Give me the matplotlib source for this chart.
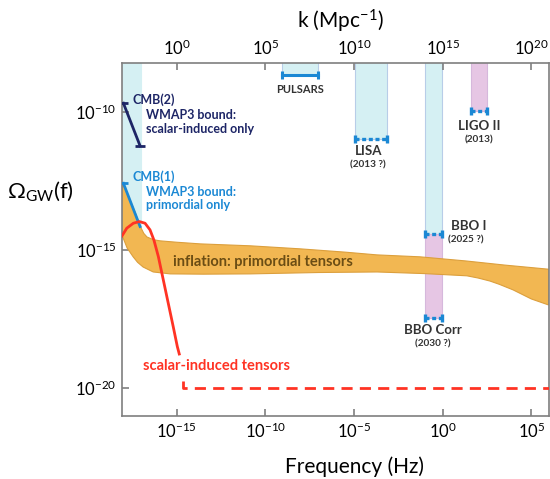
import numpy as np
import matplotlib.pyplot as plt
from matplotlib.ticker import FixedLocator, FuncFormatter, NullLocator

plt.rcParams['font.family'] = ['Lato', 'DejaVu Sans']
plt.rcParams['mathtext.fontset'] = 'custom'
plt.rcParams['mathtext.rm'] = 'Lato'
plt.rcParams['mathtext.it'] = 'Lato:italic'
plt.rcParams['mathtext.bf'] = 'Lato:bold'
plt.rcParams['mathtext.fallback'] = 'stixsans'

# all values are log10 numbers
# inflation band (upper edge left->right, lower edge right->left)
infl_up_f = [-18.08, -17.63, -17.30, -17.06, -16.85, -16.67, -16.30, -15.93, -15.0, -13.67,
             -10.85, -8.04, -5.5, -3.70, -1.28, 1.31, 3.5, 5.98]
infl_up_o = [-12.57, -13.18, -13.70, -14.13, -14.40, -14.53, -14.63, -14.67, -14.72, -14.78,
             -14.85, -14.96, -15.08, -15.18, -15.25, -15.40, -15.55, -15.70]
infl_lo_f = [5.98, 5.0, 3.97, 3.2, 2.67, 2.0, 1.37, -1.0, -3.70, -7.0, -10.85, -13.5,
             -15.36, -16.32, -16.89, -17.20, -17.45, -17.79, -18.08]
infl_lo_o = [-17.0, -16.78, -16.45, -16.25, -16.13, -16.02, -15.94, -15.86, -15.80, -15.82,
             -15.87, -15.88, -15.87, -15.80, -15.62, -15.45, -15.25, -14.93, -14.46]

# scalar-induced tensors
scal_f = [-18.08, -17.81, -17.44, -17.10, -16.78, -16.50, -16.28, -16.03, -15.75, -15.47,
          -15.19, -14.96, -14.85]
scal_o = [-14.49, -14.21, -14.03, -13.97, -14.03, -14.27, -14.64, -15.24, -16.09, -16.94,
          -17.79, -18.51, -18.78]
floor_f = [-14.62, -14.62, 5.98]
floor_o = [-19.75, -20.0, -20.0]

# CMB bounds
cmb2_f = [-18.0, -17.06]
cmb2_o = [-9.67, -11.22]
cmb1_f = [-18.0, -17.06]
cmb1_o = [-12.58, -14.15]
cmb_band_f = [-18.08, -17.02]
cmb_band_o = -14.15

# detectors: f range, sensitivity level
pulsar_f = [-9.08, -7.05]
pulsar_o = -8.65
lisa_f = [-4.94, -3.16]
lisa_o = -10.98
ligo_f = [1.58, 2.48]
ligo_o = -9.95
bbo_f = [-1.0, -0.06]
bbo1_o = -14.43
bbocorr_o = -17.48

xlim = [-18.08, 5.98]
ylim = [-21.02, -8.22]
xticks = [-15, -10, -5, 0, 5]
kticks = [0, 5, 10, 15, 20]
yticks = [-20, -15, -10]
k_shift = 15

cyan = '#d5f0f3'
cyan_edge = '#b8cde8'
pink = '#e6c6e4'
pink_edge = '#d6b8dc'
blue = '#1b88d4'
navy = '#1d2566'
red = '#ff3324'
grey = '#7f7f7f'
dark = '#333333'

p = lambda a: 10.0 ** np.asarray(a, dtype=float)

fig = plt.figure(figsize=(5.5, 4.79), dpi=100)
ax = fig.add_axes([0.2218, 0.1322, 0.7758, 0.7357])
ax.set_xscale('log')
ax.set_yscale('log')
ax.set_xlim(p(xlim))
ax.set_ylim(p(ylim))

top = ylim[1] + 0.5


def band(f, lo, hi, fc, ec):
    ax.fill_between(p(f), p(lo), p(hi), facecolor=fc, edgecolor=ec, lw=0.8, zorder=1)


band(cmb_band_f, cmb_band_o, top, cyan, cyan)
band(pulsar_f, pulsar_o, top, cyan, cyan_edge)
band(lisa_f, lisa_o, top, cyan, cyan_edge)
band(ligo_f, ligo_o, top, pink, pink_edge)
band(bbo_f, bbo1_o, top, cyan, cyan_edge)
band(bbo_f, bbocorr_o, bbo1_o, pink, pink_edge)

ax.fill(p(infl_up_f + infl_lo_f), p(infl_up_o + infl_lo_o), facecolor='#f2b752',
        edgecolor='#dc9f3c', lw=0.8, zorder=2)

# sensitivity bars
ax.plot(p(pulsar_f), p([pulsar_o] * 2), color=blue, lw=2.2, zorder=4)
ax.plot(p(pulsar_f), p([pulsar_o] * 2), ls='none', marker='|', ms=6, mew=2.2, color=blue, zorder=4)
for f, o in [(lisa_f, lisa_o), (ligo_f, ligo_o), (bbo_f, bbo1_o), (bbo_f, bbocorr_o)]:
    ax.plot(p(f), p([o] * 2), color=blue, lw=2.4, ls=(0, (1.2, 0.8)), zorder=4)
    ax.plot(p(f), p([o] * 2), ls='none', marker='|', ms=5.5, mew=2.4, color=blue, zorder=4)

# CMB bounds
ax.plot(p(cmb2_f), p(cmb2_o), color=navy, lw=2, zorder=5)
ax.plot(p(cmb2_f), p(cmb2_o), ls='none', marker='_', ms=7, mew=2, color=navy, zorder=5)
ax.plot(p(cmb1_f), p(cmb1_o), color=blue, lw=2, zorder=5)
ax.plot(p(cmb1_f[:1]), p(cmb1_o[:1]), ls='none', marker='_', ms=7, mew=2, color=blue, zorder=5)

# scalar-induced
ax.plot(p(scal_f), p(scal_o), color=red, lw=2, zorder=6)
ax.plot(p(floor_f), p(floor_o), color=red, lw=2, ls=(0, (4, 2.6)), zorder=6)

# labels inside plot
def t(x, y, s, **kw):
    kw.setdefault('fontweight', 'bold')
    ax.text(10.0 ** x, 10.0 ** y, s, va='center', zorder=7, **kw)


t(-17.50, -9.53, 'CMB(2)', color=navy, fontsize=9)
t(-16.72, -10.10, 'WMAP3 bound:', color=navy, fontsize=9)
t(-16.72, -10.61, 'scalar-induced only', color=navy, fontsize=9)
t(-17.50, -12.34, 'CMB(1)', color=blue, fontsize=9)
t(-16.72, -12.88, 'WMAP3 bound:', color=blue, fontsize=9)
t(-16.72, -13.37, 'primordial only', color=blue, fontsize=9)
t(-15.22, -15.42, 'inflation: primordial tensors', color='#6b4d14', fontsize=10.5)
t(-16.91, -19.20, 'scalar-induced tensors', color=red, fontsize=10.5)
t(-8.04, -9.19, 'PULSARS', color=dark, fontsize=8, ha='center')
t(-4.19, -11.39, 'LISA', color=dark, fontsize=9.5, ha='center')
t(-4.19, -11.91, '(2013 ?)', color=dark, fontsize=7.2, ha='center')
t(2.06, -10.50, 'LIGO II', color=dark, fontsize=9.5, ha='center')
t(2.06, -11.01, '(2013)', color=dark, fontsize=7.2, ha='center')
t(0.45, -14.13, 'BBO I', color=dark, fontsize=9.5)
t(0.32, -14.64, '(2025 ?)', color=dark, fontsize=7.2)
t(-0.53, -17.90, 'BBO Corr', color=dark, fontsize=9.5, ha='center')
t(-0.53, -18.41, '(2030 ?)', color=dark, fontsize=7.2, ha='center')

fmt = FuncFormatter(lambda v, pos: '$10^{%d}$' % int(round(np.log10(v))))

for s in ax.spines.values():
    s.set_color(grey)
    s.set_linewidth(1.2)
ax.xaxis.set_major_locator(FixedLocator(p(xticks)))
ax.yaxis.set_major_locator(FixedLocator(p(yticks)))
ax.xaxis.set_minor_locator(NullLocator())
ax.yaxis.set_minor_locator(NullLocator())
ax.xaxis.set_major_formatter(fmt)
ax.yaxis.set_major_formatter(fmt)
ax.tick_params(direction='in', length=5, width=1.2, color=grey, labelsize=12, pad=4)

ax2 = ax.twiny()
ax2.set_xscale('log')
ax2.set_xlim(p(np.array(xlim) + k_shift))
ax2.xaxis.set_major_locator(FixedLocator(p(kticks)))
ax2.xaxis.set_minor_locator(NullLocator())
ax2.xaxis.set_major_formatter(fmt)
ax2.tick_params(direction='in', length=5, width=1.2, color=grey, labelsize=12, pad=4)
for s in ax2.spines.values():
    s.set_visible(False)

ax.set_xlabel('Frequency (Hz)', fontsize=15, va='center')
ax.xaxis.set_label_coords(0.546, -0.145)
ax2.set_xlabel('k (Mpc$^{-1}$)', fontsize=15, va='center')
ax2.xaxis.set_label_coords(0.511, 1.12)
ax.set_ylabel(r'$\Omega_{\mathrm{GW}}\mathrm{(f)}$', fontsize=16, rotation=0, ha='center', va='center')
ax.yaxis.set_label_coords(-0.19, 0.636)

fig.savefig('out.png', dpi=100)
